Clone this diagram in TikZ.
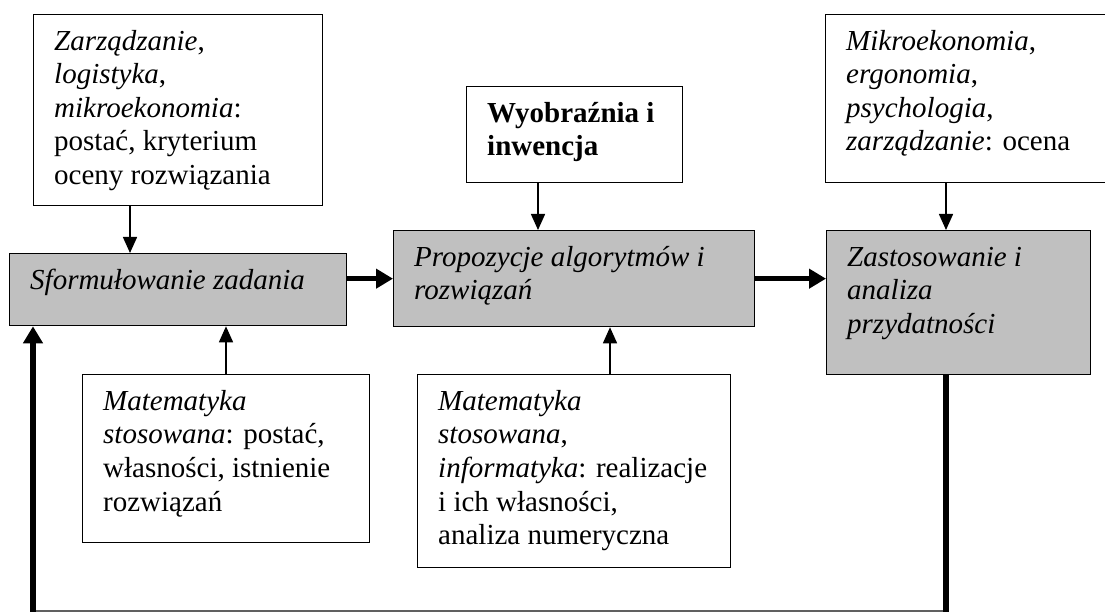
\documentclass[tikz,border=0pt]{standalone}
\usepackage{fontspec}
\setmainfont{Liberation Serif}
\usetikzlibrary{arrows.meta}
\definecolor{boxgray}{HTML}{C0C0C0}
\definecolor{linegray}{HTML}{606060}
\tikzset{
  box/.style={draw=black, line width=1.3pt, fill=white, anchor=north west, inner sep=0pt},
  graybox/.style={box, fill=boxgray},
  txt/.style={anchor=north west, inner sep=0pt, align=left, font=\fontsize{29pt}{33.6pt}\selectfont},
  arr/.style={line width=1.5pt, -{Triangle[length=16pt,width=14pt]}},
  tarr/.style={line width=5.5pt, -{Triangle[length=17pt,width=19pt]}},
  tline/.style={line width=5.5pt},
  fline/.style={line width=1.2pt, draw=linegray}
}
\newcommand{\fs}{\rule{0pt}{26pt}}
\begin{document}
\begin{tikzpicture}[x=1pt, y=-1pt]
\path[use as bounding box, clip] (0,0) rectangle (1105,612);
\fill[white] (0,0) rectangle (1105,612);
% top boxes
\node[box, minimum width=289pt, minimum height=191pt] (t1) at (33,14) {};
\node[txt] (t1txt) at (54,24) {\fs\textit{Zarządzanie},\\\textit{logistyka},\\\textit{mikroekonomia}:\\postać, kryterium\\oceny rozwiązania};
\node[box, minimum width=216pt, minimum height=96pt] (t2) at (466,86) {};
\node[txt] (t2txt) at (487,96) {\fs\textbf{Wyobraźnia i}\\\textbf{inwencja}};
\node[box, minimum width=300pt, minimum height=168pt] (t3) at (825,14) {};
\node[txt] (t3txt) at (846,24) {\fs\textit{Mikroekonomia},\\\textit{ergonomia},\\\textit{psychologia},\\\textit{zarządzanie}: ocena};
% main gray boxes
\node[graybox, minimum width=337pt, minimum height=72pt] (b1) at (9,253) {};
\node[txt] (b1txt) at (30,263) {\fs\textit{Sformułowanie zadania}};
\node[graybox, minimum width=361pt, minimum height=96pt] (b2) at (393,230) {};
\node[txt] (b2txt) at (414,240) {\fs\textit{Propozycje algorytmów i}\\\textit{rozwiązań}};
\node[graybox, minimum width=264pt, minimum height=144pt] (b3) at (826,230) {};
\node[txt] (b3txt) at (847,240) {\fs\textit{Zastosowanie i}\\\textit{analiza}\\\textit{przydatności}};
% bottom boxes
\node[box, minimum width=287pt, minimum height=168pt] (m1) at (82,374) {};
\node[txt] (m1txt) at (103,384) {\fs\textit{Matematyka}\\\textit{stosowana}: postać,\\własności, istnienie\\rozwiązań};
\node[box, minimum width=313pt, minimum height=193pt] (m2) at (417,374) {};
\node[txt] (m2txt) at (438,384) {\fs\textit{Matematyka}\\\textit{stosowana},\\\textit{informatyka}: realizacje\\i ich własności,\\analiza numeryczna};
% arrow positions
\coordinate (a1) at (130,0);
\coordinate (a2) at (538,0);
\coordinate (a3) at (946,0);
\coordinate (a4) at (226,0);
\coordinate (a5) at (610,0);
\coordinate (c1) at (946,611);
\coordinate (c2) at (33,611);
% thin arrows
\draw[arr] (t1.south -| a1) -- (b1.north -| a1);
\draw[arr] (t2.south -| a2) -- (b2.north -| a2);
\draw[arr] (t3.south -| a3) -- (b3.north -| a3);
\draw[arr] (m1.north -| a4) -- (b1.south -| a4);
\draw[arr] (m2.north -| a5) -- (b2.south -| a5);
% thick arrows
\draw[tarr] (b1.east |- b2.west) -- (b2.west);
\draw[tarr] (b2.east) -- (b3.west |- b2.east);
% feedback
\draw[fline] (c1) -- (c2);
\draw[tline] (b3.south -| c1) -- ([yshift=-3pt]c1);
\draw[tarr] ([yshift=-3pt]c2) -- (b1.south -| c2);
\end{tikzpicture}
\end{document}
